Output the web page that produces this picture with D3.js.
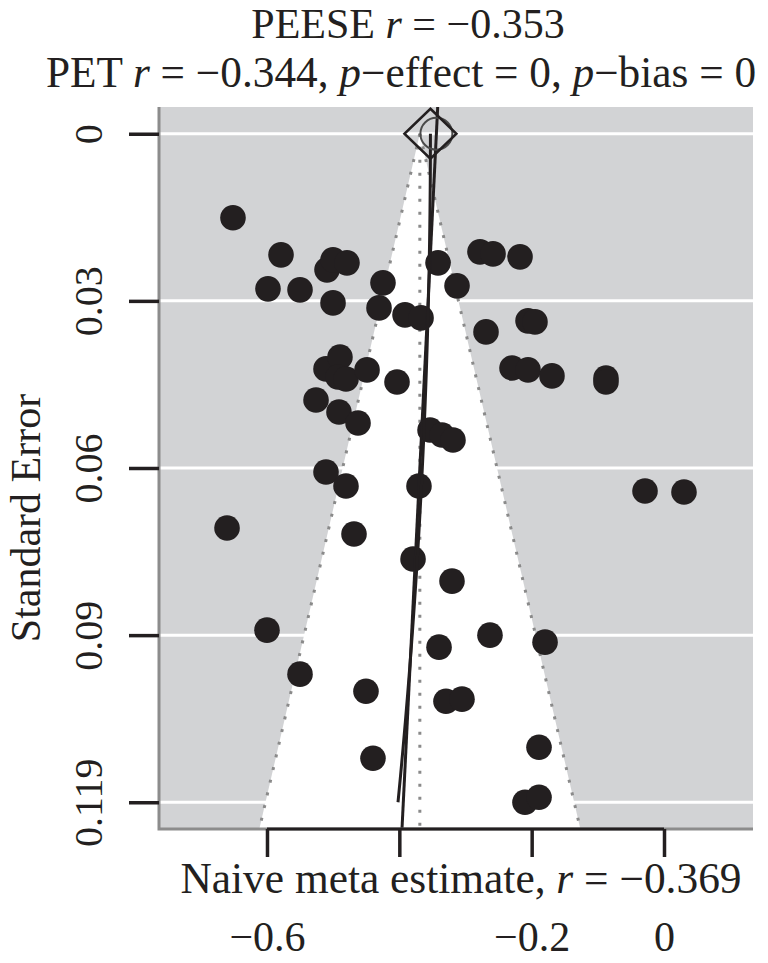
<!DOCTYPE html>
<html><head><meta charset="utf-8">
<script src="https://cdn.jsdelivr.net/npm/d3@7/dist/d3.min.js"></script>
<style>
html,body{margin:0;padding:0;background:#fff;}
svg{display:block;}
text{font-family:"Liberation Serif","Times New Roman",serif;fill:#231f20;}
</style></head>
<body>
<svg id="c" width="768" height="963"></svg>
<script>
// ---- data ----
const effectR = [-0.6514,-0.5788,-0.5985,-0.5501,-0.5093,-0.5002,-0.4791,-0.5002,-0.4247,-0.4307,
 -0.3914,-0.3672,-0.3415,-0.3128,-0.2781,-0.2584,-0.2176,-0.2690,-0.2055,-0.1950,
 -0.5108,-0.4897,-0.4927,-0.4806,-0.4488,-0.4035,-0.5259,-0.4912,-0.4624,-0.3536,
 -0.3355,-0.3189,-0.2297,-0.2055,-0.1693,-0.0877,-0.0877,-0.5108,-0.4806,-0.3703,
 -0.0287,0.0302,-0.6604,-0.4685,-0.3793,-0.3204,-0.6000,-0.2630,-0.1798,-0.3400,
 -0.5501,-0.4504,-0.3295,-0.3053,-0.1889,-0.4398,-0.2101,-0.1889];
const stdErr = [0.01496,0.02156,0.02761,0.02779,0.02423,0.02245,0.02298,0.03011,0.02654,0.03100,
 0.03224,0.03278,0.02298,0.02708,0.02102,0.02138,0.02191,0.03527,0.03331,0.03349,
 0.04186,0.03973,0.04329,0.04365,0.04204,0.04418,0.04739,0.04952,0.05148,0.05273,
 0.05362,0.05451,0.04169,0.04204,0.04311,0.04347,0.04418,0.06021,0.06271,0.06271,
 0.06360,0.06378,0.07019,0.07126,0.07571,0.07963,0.08836,0.08925,0.09050,0.09139,
 0.09620,0.09923,0.10101,0.10065,0.10920,0.11116,0.11900,0.11811];
const naiveEstimate = -0.369;
const petCoef = [-0.344, -0.42];      // intercept, slope on SE
const peeseCoef = [-0.353, -3.46];    // intercept, slope on SE^2
const xTicks = [-0.6, -0.4, -0.2, 0];
const xTickLabels = ["\u22120.6", "", "\u22120.2", "0"];
const yTicks = [0, 0.02975, 0.0595, 0.08925, 0.119];
const yTickLabels = ["0", "0.03", "0.06", "0.09", "0.119"];
const xDomain = [-0.7632, 0.1345];
const yDomain = [-0.00476, 0.12376];

// ---- layout ----
const svg = d3.select("#c");
const L = 159, R = 753, T = 107, B = 829;
const x = d3.scaleLinear().domain(xDomain).range([L, R]);
const y = d3.scaleLinear().domain(yDomain).range([T, B]);
const ink = "#231f20";
const maxSE = d3.max(stdErr);
const seBottom = yDomain[1];

// plot background
svg.append("rect").attr("x", L).attr("y", T).attr("width", R - L).attr("height", B - T).attr("fill", "#d2d3d5");

// grid lines
svg.append("g").selectAll("line").data(yTicks).join("line")
  .attr("x1", L).attr("x2", R).attr("y1", d => y(d)).attr("y2", d => y(d))
  .attr("stroke", "#fff").attr("stroke-width", 3);

// funnel
const funnel = [[naiveEstimate, 0], [naiveEstimate - 1.96 * seBottom, seBottom], [naiveEstimate + 1.96 * seBottom, seBottom]];
svg.append("path").attr("d", "M" + funnel.map(p => [x(p[0]), y(p[1])].join(",")).join("L") + "Z")
  .attr("fill", "#fff");
const dotted = {stroke: "#8a8a8a", "stroke-width": 3, "stroke-dasharray": "3,10"};
function dl(x1, y1, x2, y2) {
  const l = svg.append("line").attr("x1", x1).attr("y1", y1).attr("x2", x2).attr("y2", y2);
  for (const k in dotted) l.attr(k, dotted[k]);
  return l;
}
dl(x(naiveEstimate), y(0), x(naiveEstimate - 1.96 * seBottom), y(seBottom));
dl(x(naiveEstimate), y(0), x(naiveEstimate + 1.96 * seBottom), y(seBottom));
dl(x(naiveEstimate), y(0), x(naiveEstimate), y(seBottom) - 2);

// points
svg.append("g").selectAll("circle").data(d3.range(effectR.length)).join("circle")
  .attr("cx", i => x(effectR[i])).attr("cy", i => y(stdErr[i])).attr("r", 12.8)
  .attr("fill", ink);

// PET line (full height)
const petLine = d3.line().x(s => x(petCoef[0] + petCoef[1] * s)).y(s => y(s));
svg.append("path").attr("d", petLine([yDomain[0], yDomain[1]]))
  .attr("fill", "none").attr("stroke", ink).attr("stroke-width", 3);
// PEESE curve
const peeseLine = d3.line().x(s => x(peeseCoef[0] + peeseCoef[1] * s * s)).y(s => y(s));
svg.append("path").attr("d", peeseLine(d3.range(0, 51).map(i => maxSE * i / 50)))
  .attr("fill", "none").attr("stroke", ink).attr("stroke-width", 3);

// PET circle & PEESE diamond
svg.append("circle").attr("cx", x(petCoef[0])).attr("cy", y(0)).attr("r", 16)
  .attr("fill", "none").attr("stroke", "#4a4a4a").attr("stroke-width", 2);
const dx = x(peeseCoef[0]), dy = y(0);
svg.append("path").attr("d", `M${dx},${dy - 25}L${dx + 26},${dy}L${dx},${dy + 25}L${dx - 26},${dy}Z`)
  .attr("fill", "none").attr("stroke", ink).attr("stroke-width", 2.5);

// box border (left + bottom gray)
svg.append("path").attr("d", `M${L},${T}L${L},${B}L${R},${B}`).attr("fill", "none")
  .attr("stroke", "#8c8c8c").attr("stroke-width", 3);

// y axis
const yAxis = svg.append("g").attr("transform", `translate(${L},0)`)
  .call(d3.axisLeft(y).tickValues(yTicks).tickFormat((d, i) => yTickLabels[i]).tickSize(30).tickPadding(0));
yAxis.select(".domain").remove();
yAxis.selectAll(".tick line").attr("stroke", ink).attr("stroke-width", 3.5);
yAxis.selectAll(".tick text")
  .attr("x", null).attr("dy", null)
  .attr("transform", "translate(-57,0) rotate(-90)")
  .attr("text-anchor", "middle").attr("font-size", 40)
  .style("font-family", "'Liberation Serif',serif").attr("fill", ink);

// x axis
const xAxis = svg.append("g").attr("transform", `translate(0,${B})`)
  .call(d3.axisBottom(x).tickValues(xTicks).tickFormat((d, i) => xTickLabels[i]).tickSize(28).tickSizeOuter(0).tickPadding(0));
xAxis.select(".domain").attr("d", `M${x(xTicks[0])},0H${x(xTicks[xTicks.length - 1])}`)
  .attr("stroke", ink).attr("stroke-width", 3);
xAxis.selectAll(".tick line").attr("stroke", ink).attr("stroke-width", 3.5);
xAxis.selectAll(".tick text").attr("y", 122).attr("dy", null)
  .attr("font-size", 42).style("font-family", "'Liberation Serif',serif").attr("fill", ink);

// axis titles
function rich(sel, parts) {
  parts.forEach(p => sel.append("tspan").text(p[0]).attr("font-style", p[1] ? "italic" : null));
}
const xt = svg.append("text").attr("x", 461).attr("y", 893).attr("text-anchor", "middle").attr("font-size", 43.4);
rich(xt, [["Naive meta estimate, ", 0], ["r", 1], [" = \u2212" + Math.abs(naiveEstimate).toFixed(3), 0]]);

svg.append("text").attr("transform", "translate(40,518) rotate(-90)").attr("text-anchor", "middle")
  .attr("font-size", 42).text("Standard Error");

// titles
const t1 = svg.append("text").attr("x", 408).attr("y", 38).attr("text-anchor", "middle").attr("font-size", 42);
rich(t1, [["PEESE ", 0], ["r", 1], [" = \u2212" + Math.abs(peeseCoef[0]).toFixed(3), 0]]);
const t2 = svg.append("text").attr("x", 401).attr("y", 87).attr("text-anchor", "middle").attr("font-size", 43.3);
rich(t2, [["PET ", 0], ["r", 1], [" = \u2212" + Math.abs(petCoef[0]).toFixed(3) + ", ", 0], ["p", 1], ["\u2212effect = 0, ", 0], ["p", 1], ["\u2212bias = 0", 0]]);
</script>
</body></html>
